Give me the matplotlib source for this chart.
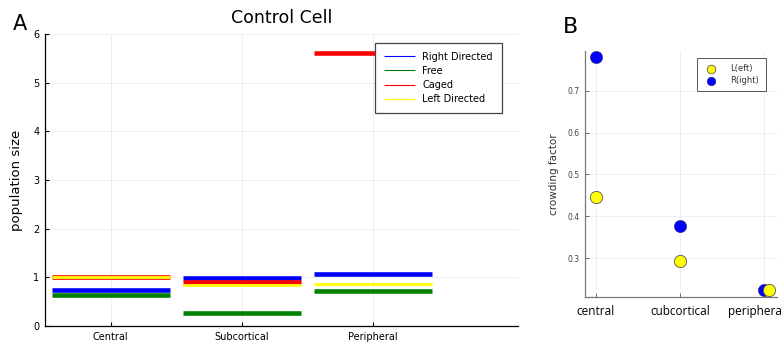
import matplotlib.pyplot as plt
import matplotlib.transforms as mtransforms

# panel A: population size per region
regions = ['Central', 'Subcortical', 'Peripheral']
right_directed = [0.745, 0.98, 1.068]
free = [0.63, 0.274, 0.72]
caged = [1.007, 0.897, 5.60]
left_directed = [1.0, 0.836, 0.863]

# panel B: crowding factor
regions_b = ['central', 'cubcortical', 'periphera']
x_left = [0, 1, 2.05]
x_right = [0, 1, 2.0]
crowd_left = [0.447, 0.294, 0.224]
crowd_right = [0.78, 0.377, 0.224]

fig = plt.figure(figsize=(7.81, 3.43), dpi=100)

# ---- A ----
ax = fig.add_axes([0.0576, 0.0496, 0.6053, 0.8513])
series = [
    ('Right Directed', right_directed, 'blue', 3.3),
    ('Free', free, 'green', 3.3),
    ('Caged', caged, 'red', 3.3),
    ('Left Directed', left_directed, 'yellow', 2.0),
]
for name, vals, col, lw in series:
    for i, v in enumerate(vals):
        ax.plot([i + 0.05, i + 0.95], [v, v], color=col, lw=lw,
                solid_capstyle='butt', label=name if i == 0 else None)

ax.set_xlim(0, 3.606)
ax.set_ylim(0, 6)
ax.set_xticks([i + 0.5 for i in range(len(regions))])
ax.set_xticklabels(regions)
ax.set_yticks(range(7))
ax.grid(True, color='#ececec', lw=0.6)
ax.set_axisbelow(True)
for s in ['top', 'right']:
    ax.spines[s].set_visible(False)
for s in ['left', 'bottom']:
    ax.spines[s].set_linewidth(0.9)
ax.tick_params(direction='in', length=3, labelsize=7, width=0.8, pad=4)
ax.set_ylabel('population size', fontsize=9.5)
ax.yaxis.set_label_coords(-0.046, 0.5)
ax.set_title('Control Cell', fontsize=12.5, pad=8)

leg = ax.legend(loc='upper right', bbox_to_anchor=(0.966, 0.969), borderaxespad=0,
                fontsize=7, fancybox=False, edgecolor='#444444', framealpha=1,
                handlelength=3.2, labelspacing=0.42, borderpad=0.9)
for h in leg.get_lines():
    h.set_linewidth(0.8)
leg.get_frame().set_linewidth(0.9)

fig.text(0.016, 0.912, 'A', fontsize=15)

# ---- B ----
bx = fig.add_axes([0.749, 0.135, 0.2458, 0.717])
bx.scatter(x_left, crowd_left, s=78, color='yellow', edgecolor='#555555',
           linewidth=0.6, label='L(eft)', zorder=3)
bx.scatter(x_right, crowd_right, s=78, color='blue', edgecolor='#333366',
           linewidth=0.4, label='R(ight)', zorder=2)
bx.set_xlim(-0.127, 2.15)
bx.set_ylim(0.2085, 0.795)
bx.set_xticks(range(len(regions_b)))
bx.set_xticklabels(regions_b, fontsize=8.5, family=['Open Sans', 'DejaVu Sans'])
bx.set_yticks([0.3, 0.4, 0.5, 0.6, 0.7])
bx.grid(True, color='#ececec', lw=0.6)
bx.set_axisbelow(True)
for s in ['top', 'right']:
    bx.spines[s].set_visible(False)
for s in ['left', 'bottom']:
    bx.spines[s].set_color('#777777')
    bx.spines[s].set_linewidth(0.9)
bx.tick_params(direction='in', length=3, width=0.6, color='#555555')
bx.tick_params(axis='y', labelsize=5.5, labelcolor='#444444', pad=4)
bx.tick_params(axis='x', pad=6)
bx.set_ylabel('crowding factor', fontsize=7.5, color='#333333', labelpad=6)

# last label sits partly off the figure, nudged left as in the original
last = bx.get_xticklabels()[2]
last.set_transform(last.get_transform() +
                   mtransforms.ScaledTranslation(-0.09, 0, fig.dpi_scale_trans))

bl = bx.legend(loc='upper right', bbox_to_anchor=(0.941, 0.97), borderaxespad=0,
               fontsize=6, fancybox=False, edgecolor='#555555', framealpha=1,
               markerscale=0.7, handletextpad=1.3, labelspacing=0.3, borderpad=0.75,
               labelcolor='#333333')
bl.get_frame().set_linewidth(0.7)

fig.text(0.721, 0.905, 'B', fontsize=16)

plt.savefig('out.png', dpi=100)
plt.close()
